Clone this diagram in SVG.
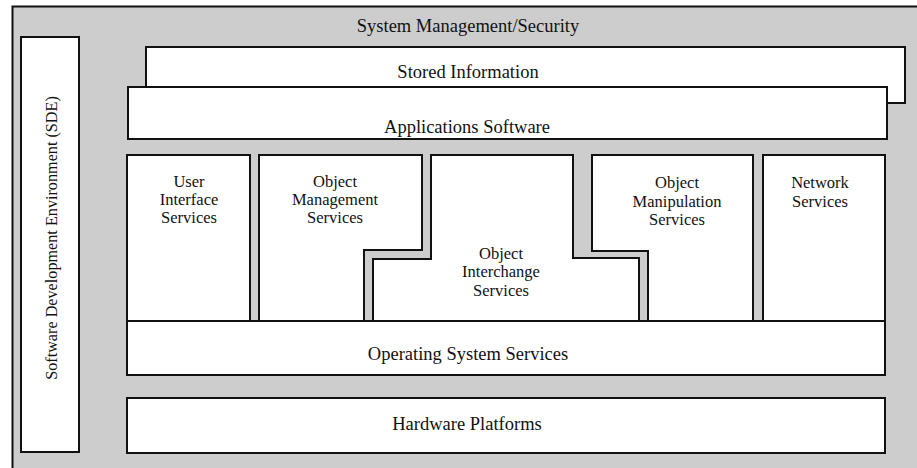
<svg xmlns="http://www.w3.org/2000/svg" width="917" height="468" viewBox="0 0 917 468">
  <style>
    .box { fill: #ffffff; stroke: #111111; stroke-width: 2; }
    .lbl { font-family: "Liberation Serif", "Times New Roman", serif; fill: #111111; text-anchor: middle; }
    .top { font-size: 18.5px; }
    .mid { font-size: 16.5px; }
  </style>
  <rect width="917" height="468" fill="#ffffff"/>
  <g id="frame">
    <rect x="12" y="6" width="905" height="462" fill="#cdcdcd"/>
    <path d="M12.5,468 V6.5 H917" fill="none" stroke="#111111" stroke-width="2"/>
    <text class="lbl top" x="468" y="32">System Management/Security</text>
  </g>
  <g id="sde">
    <rect class="box" x="21" y="37" width="58" height="415"/>
    <text class="lbl" transform="translate(57,238) rotate(-90)" font-size="16.2">Software Development Environment (SDE)</text>
  </g>
  <g id="stored-information">
    <rect class="box" x="146" y="47" width="759" height="56"/>
    <text class="lbl top" x="468" y="78">Stored Information</text>
  </g>
  <g id="applications-software">
    <rect class="box" x="128" y="87" width="759" height="52"/>
    <text class="lbl top" x="467" y="133">Applications Software</text>
  </g>
  <g id="user-interface-services">
    <rect class="box" x="127" y="155" width="123" height="166"/>
    <text class="lbl mid" x="189" y="187">User</text>
    <text class="lbl mid" x="189" y="205">Interface</text>
    <text class="lbl mid" x="189" y="223">Services</text>
  </g>
  <g id="object-management-services">
    <polygon class="box" points="259,155 422,155 422,250 364,250 364,321 259,321"/>
    <text class="lbl mid" x="335" y="187">Object</text>
    <text class="lbl mid" x="335" y="205">Management</text>
    <text class="lbl mid" x="335" y="223">Services</text>
  </g>
  <g id="object-interchange-services">
    <polygon class="box" points="431,155 573,155 573,258 639,258 639,321 373,321 373,259 431,259"/>
    <text class="lbl mid" x="501" y="259">Object</text>
    <text class="lbl mid" x="501" y="277">Interchange</text>
    <text class="lbl mid" x="501" y="296">Services</text>
  </g>
  <g id="object-manipulation-services">
    <polygon class="box" points="592,155 753,155 753,321 648,321 648,251 592,251"/>
    <text class="lbl mid" x="677" y="188">Object</text>
    <text class="lbl mid" x="677" y="207">Manipulation</text>
    <text class="lbl mid" x="677" y="225">Services</text>
  </g>
  <g id="network-services">
    <rect class="box" x="763" y="155" width="122" height="166"/>
    <text class="lbl mid" x="820" y="188">Network</text>
    <text class="lbl mid" x="820" y="207">Services</text>
  </g>
  <g id="operating-system-services">
    <rect class="box" x="127" y="321" width="758" height="54"/>
    <text class="lbl top" x="468" y="360">Operating System Services</text>
  </g>
  <g id="hardware-platforms">
    <rect class="box" x="127" y="398" width="758" height="55"/>
    <text class="lbl top" x="467" y="430">Hardware Platforms</text>
  </g>
  <g id="connectors"></g>
</svg>
